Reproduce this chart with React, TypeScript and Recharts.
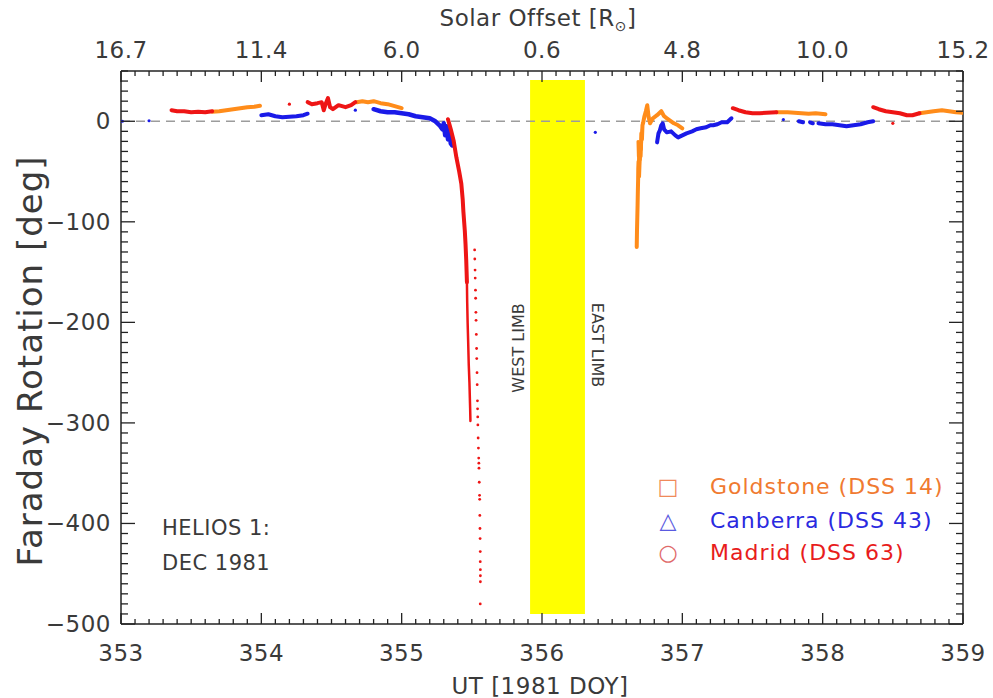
import React from "react";
import { ComposedChart, Scatter, XAxis, YAxis, ReferenceArea, ReferenceLine } from "recharts";

// axis labels
const dayTicks = [353, 354, 355, 356, 357, 358, 359];
const offsetLabels = ["16.7", "11.4", "6.0", "0.6", "4.8", "10.0", "15.2"];
const rotTicks = [-500, -400, -300, -200, -100, 0];

// Goldstone (DSS 14)
const gold1 = [[353.65, 9.5], [353.7, 10], [353.75, 11], [353.8, 12], [353.85, 13], [353.9, 14], [353.95, 14.5], [353.99, 15.5]];
const gold2 = [[354.68, 19], [354.72, 20], [354.76, 19], [354.8, 20], [354.85, 18], [354.9, 17], [354.95, 15], [355.0, 13]];
const gold3 = [
  [356.675, -125], [356.677, -108], [356.679, -96], [356.681, -84], [356.683, -70], [356.685, -58], [356.686, -47],
  [356.688, -40], [356.69, -52], [356.693, -30], [356.697, -38], [356.7, -22], [356.704, -28], [356.708, -12],
  [356.712, -18], [356.716, -4], [356.72, -2], [356.73, 5], [356.74, 10], [356.75, 16], [356.76, 4], [356.77, -2],
  [356.79, 3], [356.82, 6], [356.85, 10], [356.87, 5], [356.89, 3], [356.92, 0], [356.94, -2], [356.97, -4], [357.0, -7],
];
const gold3b = [
  [356.684, -20], [356.687, -35], [356.689, -28], [356.692, -48], [356.695, -55], [356.698, -44], [356.702, -30],
  [356.706, -35], [356.71, -20], [356.714, -8],
];
const gold4 = [[357.67, 9], [357.75, 9], [357.8, 8.5], [357.85, 8], [357.9, 7.5], [357.95, 8], [358.02, 7]];
const gold5 = [[358.69, 8], [358.74, 9], [358.79, 10], [358.85, 11], [358.9, 10], [358.95, 9], [359.0, 8.5]];

// Canberra (DSS 43)
const canDots = [[353.01, 0], [353.2, 0.5], [354.67, 11], [356.38, -11], [357.72, 1.7]];
const can1 = [[354.0, 6], [354.05, 7], [354.1, 5], [354.15, 4], [354.2, 4.5], [354.25, 5], [354.3, 6], [354.33, 7.5]];
const can2 = [
  [354.8, 12], [354.85, 10], [354.9, 9], [354.95, 9], [355.0, 8], [355.05, 7], [355.1, 5], [355.15, 4], [355.2, 3],
  [355.24, 0], [355.27, -4], [355.29, -8], [355.3, -2], [355.31, -14], [355.32, -5], [355.33, -18], [355.34, -9],
  [355.35, -22], [355.36, -24],
];
const can3 = [
  [356.82, -21], [356.83, -12], [356.84, -9], [356.85, -4], [356.86, -2], [356.87, -8], [356.89, -11], [356.92, -10],
  [356.95, -14], [356.97, -16], [357.0, -14], [357.03, -12], [357.07, -10], [357.1, -8], [357.13, -7], [357.17, -6],
  [357.2, -4], [357.22, -4], [357.25, -3], [357.28, -1], [357.32, -1], [357.35, 3],
];
const can4 = [[357.83, 0], [357.86, -1]];
const can5 = [[357.91, -1], [357.93, -2]];
const can6 = [[357.97, -2], [358.02, -3], [358.07, -3], [358.12, -4], [358.17, -5], [358.22, -4], [358.27, -3], [358.32, -1], [358.36, 0]];

// Madrid (DSS 63)
const madDots = [[354.2, 17], [358.5, -2]];
const mad1 = [[353.36, 11], [353.4, 10], [353.45, 10], [353.5, 9], [353.55, 9.5], [353.6, 9], [353.65, 10]];
const mad2 = [
  [354.33, 19], [354.36, 17], [354.4, 18], [354.43, 19], [354.445, 11], [354.46, 18], [354.475, 23], [354.49, 14],
  [354.51, 12], [354.55, 16], [354.6, 14], [354.64, 16], [354.67, 19],
];
const mad3 = [[357.36, 13], [357.4, 11], [357.45, 9], [357.5, 8], [357.55, 8], [357.6, 8.5], [357.67, 9]];
const mad4 = [[358.36, 14], [358.4, 12], [358.45, 10], [358.5, 9], [358.55, 8], [358.6, 6], [358.64, 6], [358.69, 8]];
const madDip = [
  [355.33, 2], [355.35, -8], [355.37, -19], [355.39, -36], [355.41, -50], [355.425, -62], [355.435, -78],
  [355.44, -90], [355.45, -109], [355.455, -122], [355.46, -138], [355.465, -160],
];
const madDipLow = [
  [355.465, -160], [355.467, -180], [355.47, -200], [355.474, -220], [355.478, -242], [355.483, -260],
  [355.486, -276], [355.488, -286], [355.49, -298],
];
const madStrand = [
  [355.52, -128], [355.521, -137], [355.523, -148], [355.524, -156], [355.526, -168], [355.527, -176],
  [355.529, -190], [355.53, -198], [355.532, -212], [355.534, -226], [355.535, -236], [355.537, -250],
  [355.538, -262], [355.54, -278], [355.541, -286], [355.542, -294], [355.543, -302], [355.545, -315],
  [355.547, -325], [355.549, -335], [355.55, -340], [355.551, -345], [355.553, -359], [355.555, -372],
  [355.556, -376], [355.557, -392], [355.558, -405], [355.559, -415], [355.56, -428], [355.56, -438],
  [355.561, -446], [355.561, -452], [355.561, -458], [355.56, -480],
];

const RED = "#ee1515";
const ORANGE = "#ff8c1a";
const BLUE = "#1a1ae8";
const AXIS = "#222";
const TXT = "#3a3a3a";
const FONT = "'DejaVu Sans', sans-serif";

const pts = (a: number[][]) => a.map(([x, y]) => ({ x, y }));

const minorX = Array.from({ length: 61 }, (_, i) => 353 + i / 10);
const minorY = Array.from({ length: 56 }, (_, i) => -500 + i * 10);

const isMajorX = (v: number) => Math.abs(v - Math.round(v)) < 1e-6;
const isMajorY = (v: number) => Math.abs(v % 100) < 1e-6;

function BottomTick(p: any) {
  const v = p.payload.value;
  const major = isMajorX(v);
  return (
    <g>
      <line x1={p.x} y1={p.y} x2={p.x} y2={p.y - (major ? 11 : 5)} stroke={AXIS} strokeWidth={1.3} />
      {major && (
        <text x={p.x} y={p.y + 37} textAnchor="middle" fontSize={23} fill={TXT} fontFamily={FONT} letterSpacing={0.5}>
          {Math.round(v)}
        </text>
      )}
    </g>
  );
}

function TopTick(p: any) {
  const v = p.payload.value;
  const major = isMajorX(v);
  return (
    <g>
      <line x1={p.x} y1={p.y} x2={p.x} y2={p.y + (major ? 11 : 5)} stroke={AXIS} strokeWidth={1.3} />
      {major && (
        <text x={p.x} y={p.y - 13} textAnchor="middle" fontSize={23} fill={TXT} fontFamily={FONT} letterSpacing={0.5}>
          {offsetLabels[dayTicks.indexOf(Math.round(v))]}
        </text>
      )}
    </g>
  );
}

function LeftTick(p: any) {
  const v = p.payload.value;
  const major = isMajorY(v);
  return (
    <g>
      <line x1={p.x} y1={p.y} x2={p.x + (major ? 14 : 7)} y2={p.y} stroke={AXIS} strokeWidth={1.3} />
      {major && rotTicks.includes(v) && (
        <text x={p.x - 10} y={p.y + 8} textAnchor="end" fontSize={23} fill={TXT} fontFamily={FONT} letterSpacing={0.5}>
          {v < 0 ? `\u2212${-v}` : v}
        </text>
      )}
    </g>
  );
}

function RightTick(p: any) {
  const major = isMajorY(p.payload.value);
  return <line x1={p.x} y1={p.y} x2={p.x - (major ? 14 : 7)} y2={p.y} stroke={AXIS} strokeWidth={1.3} />;
}

const noDot = () => <g />;
const dot = (color: string, r: number) => (p: any) => <circle cx={p.cx} cy={p.cy} r={r} fill={color} />;

const traces: { data: number[][]; color: string; w: number }[] = [
  { data: gold1, color: ORANGE, w: 4 },
  { data: gold2, color: ORANGE, w: 4 },
  { data: gold3, color: ORANGE, w: 4 },
  { data: gold3b, color: ORANGE, w: 3 },
  { data: gold4, color: ORANGE, w: 4 },
  { data: gold5, color: ORANGE, w: 4 },
  { data: can1, color: BLUE, w: 4 },
  { data: can2, color: BLUE, w: 4.5 },
  { data: can3, color: BLUE, w: 4 },
  { data: can4, color: BLUE, w: 4 },
  { data: can5, color: BLUE, w: 4 },
  { data: can6, color: BLUE, w: 4 },
  { data: mad1, color: RED, w: 4 },
  { data: mad2, color: RED, w: 4 },
  { data: mad3, color: RED, w: 4 },
  { data: mad4, color: RED, w: 4 },
  { data: madDip, color: RED, w: 4 },
  { data: madDipLow, color: RED, w: 2.5 },
];

export default function App() {
  return (
    <div style={{ position: "absolute", left: 0, top: 0, width: 993, height: 698, background: "#fff" }}>
      <ComposedChart width={993} height={698} margin={{ top: 0, right: 0, bottom: 0, left: 0 }}>
        <XAxis
          xAxisId="b"
          dataKey="x"
          type="number"
          domain={[353, 359]}
          allowDataOverflow
          ticks={minorX}
          interval={0}
          height={74}
          tickSize={0}
          tickMargin={0}
          tickLine={false}
          tick={BottomTick}
          axisLine={{ stroke: AXIS, strokeWidth: 1.5 }}
        />
        <XAxis
          xAxisId="t"
          orientation="top"
          dataKey="x"
          type="number"
          domain={[353, 359]}
          allowDataOverflow
          ticks={minorX}
          interval={0}
          height={71}
          tickSize={0}
          tickMargin={0}
          tickLine={false}
          tick={TopTick}
          axisLine={{ stroke: AXIS, strokeWidth: 1.5 }}
        />
        <YAxis
          yAxisId="l"
          dataKey="y"
          type="number"
          domain={[-500, 50]}
          allowDataOverflow
          ticks={minorY}
          interval={0}
          width={121}
          tickSize={0}
          tickMargin={0}
          tickLine={false}
          tick={LeftTick}
          axisLine={{ stroke: AXIS, strokeWidth: 1.5 }}
        />
        <YAxis
          yAxisId="r"
          orientation="right"
          dataKey="y"
          type="number"
          domain={[-500, 50]}
          allowDataOverflow
          ticks={minorY}
          interval={0}
          width={30}
          tickSize={0}
          tickMargin={0}
          tickLine={false}
          tick={RightTick}
          axisLine={{ stroke: AXIS, strokeWidth: 1.5 }}
        />
        <ReferenceArea xAxisId="b" yAxisId="l" x1={355.915} x2={356.306} y1={-490} y2={41} fill="#ffff00" fillOpacity={1} stroke="none" />
        <ReferenceLine xAxisId="b" yAxisId="l" y={0} stroke="#9c9c9c" strokeWidth={1.5} strokeDasharray="9 6" />
        {traces.map((t, i) => (
          <Scatter
            key={i}
            xAxisId="b"
            yAxisId="l"
            data={pts(t.data)}
            fill={t.color}
            line={{ stroke: t.color, strokeWidth: t.w, strokeLinecap: "round", strokeLinejoin: "round" }}
            shape={noDot}
            isAnimationActive={false}
          />
        ))}
        <Scatter xAxisId="b" yAxisId="l" data={pts(canDots)} fill={BLUE} shape={dot(BLUE, 1.6)} isAnimationActive={false} />
        <Scatter xAxisId="b" yAxisId="l" data={pts(madDots)} fill={RED} shape={dot(RED, 1.6)} isAnimationActive={false} />
        <Scatter xAxisId="b" yAxisId="l" data={pts(madStrand)} fill={RED} shape={dot(RED, 1.4)} isAnimationActive={false} />
      </ComposedChart>
      <svg width={993} height={698} style={{ position: "absolute", left: 0, top: 0, pointerEvents: "none" }} fontFamily={FONT}>
        <text x={538} y={26} textAnchor="middle" fontSize={23} fill={TXT} letterSpacing={0.5}>
          Solar Offset [R<tspan fontSize={14} dy={5}>⊙</tspan><tspan dy={-5}>]</tspan>
        </text>
        <text x={540} y={694} textAnchor="middle" fontSize={23} fill={TXT} letterSpacing={0.5}>UT [1981 DOY]</text>
        <text transform="translate(42,361) rotate(-90)" textAnchor="middle" fontSize={34} fill={TXT} letterSpacing={1}>
          Faraday Rotation [deg]
        </text>
        <text transform="translate(524,348) rotate(-90)" textAnchor="middle" fontSize={16} fill={TXT}>WEST LIMB</text>
        <text transform="translate(592,345) rotate(90)" textAnchor="middle" fontSize={16} fill={TXT}>EAST LIMB</text>
        <text x={162} y={535} fontSize={21} fill={TXT} letterSpacing={0.5}>HELIOS 1:</text>
        <text x={162} y={570} fontSize={21} fill={TXT} letterSpacing={0.5}>DEC 1981</text>
        <text x={668} y={494} textAnchor="middle" fontSize={22} fill="#f08a5a">□</text>
        <text x={668} y={528} textAnchor="middle" fontSize={22} fill="#5a5ae0">△</text>
        <text x={668} y={560} textAnchor="middle" fontSize={22} fill="#e06a6a">○</text>
        <text x={710} y={494} fontSize={22} fill="#f07a30" letterSpacing={1}>Goldstone (DSS 14)</text>
        <text x={710} y={528} fontSize={22} fill="#2a2ae0" letterSpacing={1}>Canberra (DSS 43)</text>
        <text x={710} y={560} fontSize={22} fill="#e81c1c" letterSpacing={1}>Madrid (DSS 63)</text>
      </svg>
    </div>
  );
}
